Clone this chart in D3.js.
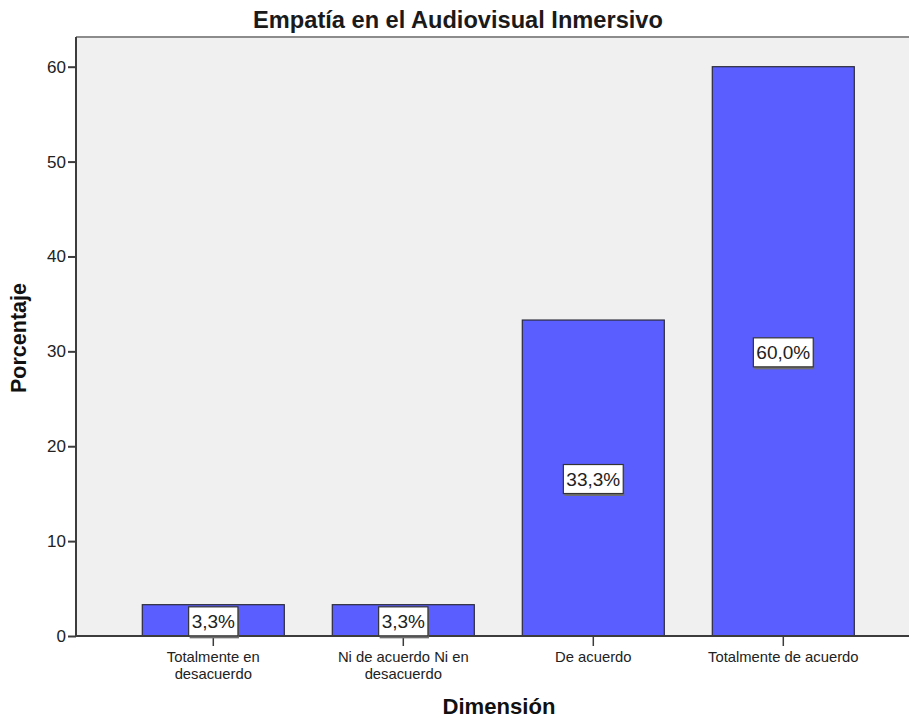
<!DOCTYPE html>
<html>
<head>
<meta charset="utf-8">
<script src="https://cdn.jsdelivr.net/npm/d3@7"></script>
<style>
  html, body { margin: 0; padding: 0; background: #ffffff; }
  svg { display: block; font-family: "Liberation Sans", Arial, sans-serif; }
</style>
</head>
<body>
<svg id="chart" width="909" height="720"></svg>
<script>
// Distribución de respuestas (porcentaje) por categoría
const categories = [
  ["Totalmente en", "desacuerdo"],
  ["Ni de acuerdo Ni en", "desacuerdo"],
  ["De acuerdo"],
  ["Totalmente de acuerdo"]
];
const percentages = [3.3, 3.3, 33.3, 60.0];
const valueLabels = ["3,3%", "3,3%", "33,3%", "60,0%"];
const yTicks = [0, 10, 20, 30, 40, 50, 60];

const title = "Empatía en el Audiovisual Inmersivo";
const xTitle = "Dimensión";
const yTitle = "Porcentaje";

const svg = d3.select("#chart");
const plot = { left: 76, right: 909, top: 37, bottom: 636 };

const keys = categories.map((c, i) => i);
const x = d3.scaleBand()
  .domain(keys)
  .range([118.3, 878.3])
  .paddingInner(0.2526)
  .paddingOuter(0.1263);

const y = d3.scaleLinear()
  .domain([0, 60])
  .range([plot.bottom, 66.7]);

// Plot background
svg.append("rect")
  .attr("x", plot.left).attr("y", plot.top)
  .attr("width", plot.right - plot.left).attr("height", plot.bottom - plot.top)
  .attr("fill", "#f0f0f0");

// Top frame line
svg.append("line")
  .attr("x1", plot.left).attr("x2", plot.right)
  .attr("y1", plot.top).attr("y2", plot.top)
  .attr("stroke", "#8c8c8c").attr("stroke-width", 2);

// Bars
svg.append("g").selectAll("rect")
  .data(percentages)
  .join("rect")
  .attr("x", (d, i) => x(i))
  .attr("y", d => y(d))
  .attr("width", x.bandwidth())
  .attr("height", d => y(0) - y(d))
  .attr("fill", "#5a5eff")
  .attr("stroke", "#2b2b3a")
  .attr("stroke-width", 1.2);

// Y axis
const yAxis = d3.axisLeft(y).tickValues(yTicks).tickSize(8).tickPadding(2).tickFormat(d3.format("d"));
const gy = svg.append("g").attr("transform", `translate(${plot.left},0)`).call(yAxis);
gy.select(".domain").remove();
gy.append("line")
  .attr("x1", 0).attr("x2", 0).attr("y1", plot.top).attr("y2", plot.bottom)
  .attr("stroke", "#3c3c3c").attr("stroke-width", 2);
gy.selectAll(".tick line").attr("stroke", "#3c3c3c").attr("stroke-width", 2);
gy.selectAll(".tick text")
  .attr("font-size", 17).attr("fill", "#222")
  .attr("font-family", "Liberation Sans, Arial, sans-serif");

// X axis
const xAxis = d3.axisBottom(x).tickSize(10).tickFormat("");
const gx = svg.append("g").attr("transform", `translate(0,${plot.bottom})`).call(xAxis);
gx.select(".domain").remove();
gx.append("line")
  .attr("x1", plot.left).attr("x2", plot.right).attr("y1", 0).attr("y2", 0)
  .attr("stroke", "#3c3c3c").attr("stroke-width", 2);
gx.selectAll(".tick line").attr("stroke", "#3c3c3c").attr("stroke-width", 1.5);

// Category labels (one text per line)
gx.selectAll(".tick").each(function(d) {
  const tick = d3.select(this);
  categories[d].forEach((line, j) => {
    tick.append("text")
      .attr("text-anchor", "middle")
      .attr("font-size", 14.8)
      .attr("fill", "#222")
      .attr("font-family", "Liberation Sans, Arial, sans-serif")
      .attr("x", 0).attr("y", 26 + j * 17)
      .text(line);
  });
});

// Value labels in boxes at bar middle
const lab = svg.append("g").selectAll("g")
  .data(percentages)
  .join("g")
  .attr("transform", (d, i) => `translate(${x(i) + x.bandwidth() / 2},${(y(d) + y(0)) / 2 + 1})`);

lab.each(function(d, i) {
  const g = d3.select(this);
  const txt = g.append("text")
    .attr("text-anchor", "middle")
    .attr("dominant-baseline", "central")
    .attr("font-size", 19)
    .attr("fill", "#222")
    .text(valueLabels[i]);
  const w = txt.node().getComputedTextLength() + 6;
  const h = 29;
  g.insert("rect", "text")
    .attr("x", -w / 2 + 1).attr("y", -h / 2 + 2.5)
    .attr("width", w).attr("height", h)
    .attr("fill", "#6e6e6e");
  g.insert("rect", "text")
    .attr("x", -w / 2).attr("y", -h / 2)
    .attr("width", w).attr("height", h)
    .attr("fill", "#ffffff")
    .attr("stroke", "#333").attr("stroke-width", 1.2);
});

// Titles, sized to their measured span
const fitText = (sel, target) => {
  const len = sel.node().getComputedTextLength();
  const fs = parseFloat(sel.attr("font-size"));
  sel.attr("font-size", fs * target / len);
};

const t1 = svg.append("text")
  .attr("x", 458).attr("y", 28)
  .attr("text-anchor", "middle")
  .attr("font-size", 20).attr("fill", "#1a1a1a")
  .attr("font-weight", "bold")
  .text(title);
fitText(t1, 410);

const tx = svg.append("text")
  .attr("x", 499).attr("y", 714)
  .attr("text-anchor", "middle")
  .attr("font-size", 18).attr("font-weight", "bold").attr("fill", "#111")
  .text(xTitle);
fitText(tx, 113);

const ty = svg.append("text")
  .attr("transform", "translate(26,338) rotate(-90)")
  .attr("text-anchor", "middle")
  .attr("font-size", 18).attr("font-weight", "bold").attr("fill", "#111")
  .text(yTitle);
fitText(ty, 110);
</script>
</body>
</html>
